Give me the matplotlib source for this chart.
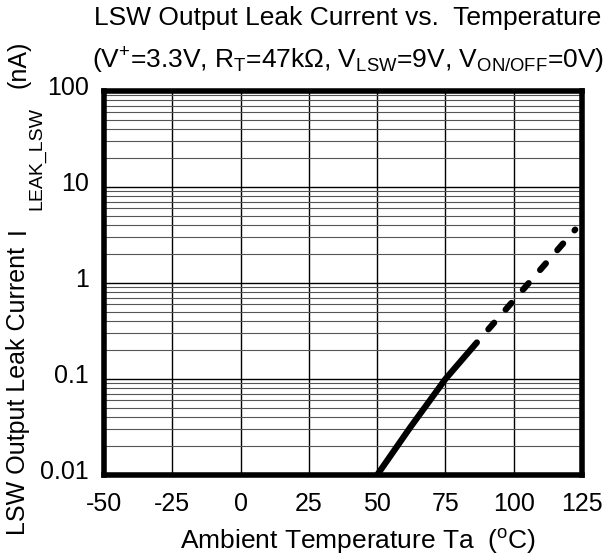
import numpy as np
import matplotlib
matplotlib.use("Agg")
import matplotlib.pyplot as plt
import matplotlib.transforms as mtransforms
from matplotlib.ticker import FixedLocator, FixedFormatter, LogLocator, NullFormatter

plt.rcParams['font.family'] = ['Liberation Sans', 'DejaVu Sans']
plt.rcParams['mathtext.fontset'] = 'custom'
plt.rcParams['mathtext.rm'] = 'Liberation Sans'
plt.rcParams['mathtext.it'] = 'Liberation Sans'
plt.rcParams['axes.unicode_minus'] = False

# measured part (solid) and extrapolated part (dashed)
temp_solid = [50, 62, 75, 86.5]
leak_solid = [0.01, 0.031, 0.1, 0.24]
temp_dash = [86.5, 100, 122.5]
leak_dash = [0.24, 0.66, 3.6]

x_ticks = [-50, -25, 0, 25, 50, 75, 100, 125]
y_ticks = [0.01, 0.1, 1, 10, 100]
y_labels = ['0.01', '0.1', '1', '10', '100']

W, H = 609, 556
fig = plt.figure(figsize=(W / 100, H / 100), dpi=100)
ax = fig.add_axes([0.1708, 0.1457, 0.7849, 0.6906])

ax.set_yscale('log')
ax.set_xlim(-50, 125)
ax.set_ylim(0.01, 100)

ax.xaxis.set_major_locator(FixedLocator(x_ticks))
ax.yaxis.set_major_locator(FixedLocator(y_ticks))
ax.yaxis.set_major_formatter(FixedFormatter(y_labels))
ax.yaxis.set_minor_locator(LogLocator(base=10, subs=np.arange(2, 10)))
ax.yaxis.set_minor_formatter(NullFormatter())

ax.grid(True, which='major', color='black', lw=1.0)
ax.grid(True, which='minor', axis='y', color='#555555', lw=0.8)
ax.tick_params(which='both', length=0, labelsize=18)
ax.tick_params(axis='y', pad=11)
ax.tick_params(axis='x', pad=12)

# y tick labels sit a little above their grid lines
shift = mtransforms.ScaledTranslation(0, 4 / 72, fig.dpi_scale_trans)
for lab in ax.get_yticklabels():
    lab.set_transform(lab.get_transform() + shift)

for s in ax.spines.values():
    s.set_linewidth(4)
    s.set_zorder(5)

ax.plot(temp_solid, leak_solid, color='black', lw=4.5, solid_capstyle='round', zorder=4)
ax.plot(temp_dash, leak_dash, color='black', lw=4.5, dash_capstyle='round',
        ls=(1.4, (1.4, 2.8)), zorder=4)

ax.set_xlabel('Ambient Temperature Ta  ($^{\\mathregular{o}}$C)', fontsize=19)
ax.xaxis.set_label_coords(0.531, -0.135)

# y label built from pieces so the subscript can be larger than mathtext's
def ytext(x, y, s, size):
    fig.text(x / W, 1 - y / H, s, fontsize=size, rotation=90,
             ha='center', va='bottom')

ytext(18, 535, 'LSW Output Leak Current', 18)
ytext(18, 234, 'I', 18)
ytext(37, 210, 'LEAK_LSW', 14)
ytext(18, 88, '(nA)', 18)

fig.text(0.571, 0.968, 'LSW Output Leak Current vs.  Temperature', fontsize=19,
         ha='center', va='center')
fig.text(0.571, 0.89, '(V$^{+}$=3.3V, R$_{\\mathregular{T}}$=47k\u03a9, V$_{\\mathregular{LSW}}$=9V, '
         'V$_{\\mathregular{ON/OFF}}$=0V)', fontsize=19, ha='center', va='center')

fig.savefig('out.png', dpi=100)
